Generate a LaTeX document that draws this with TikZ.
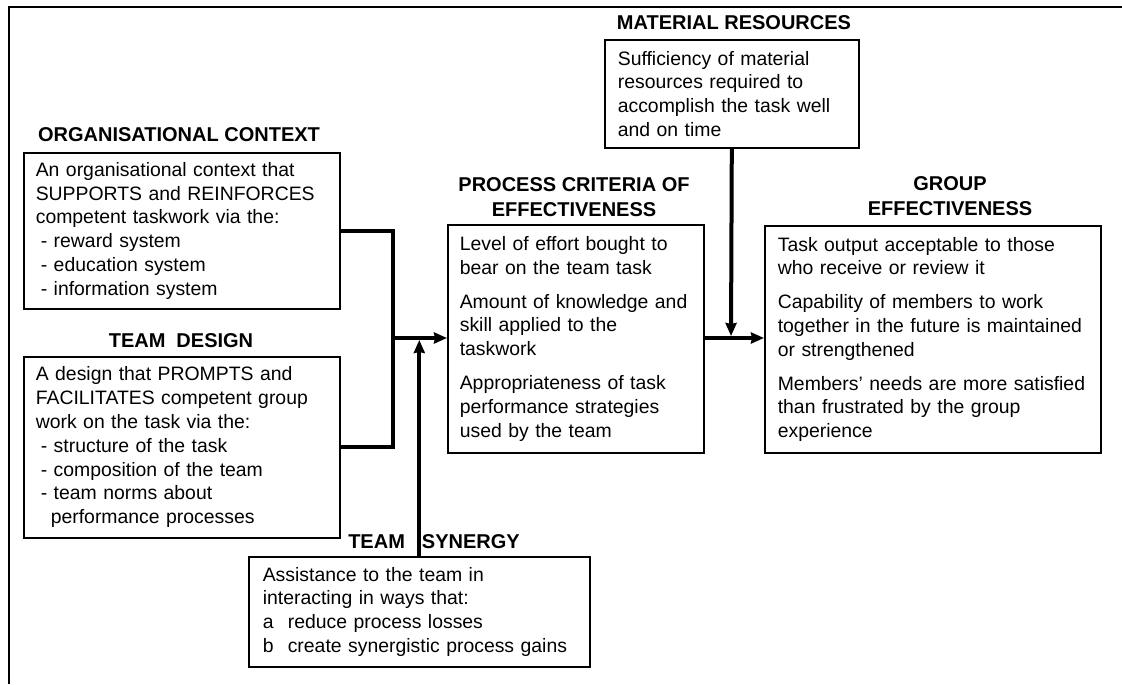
\documentclass[tikz,border=0pt]{standalone}
\usepackage{fontspec}
\setmainfont{Liberation Sans}
\usetikzlibrary{positioning,calc,arrows.meta}
\hyphenpenalty=10000
\tikzset{font=\fontsize{9.7}{11.9}\selectfont}
\tikzset{
	box/.style={draw, line width=0.8pt, align=left, anchor=north west, inner xsep=6pt, inner ysep=0pt},
	head/.style={font=\fontsize{10}{12.2}\selectfont\bfseries, align=center, inner sep=1pt},
	feed/.style={line width=2pt, -{Stealth[length=6.5pt, width=5.5pt, inset=0.5pt]}},
}

\begin{document}
\begin{tikzpicture}[x=0.5pt, y=-0.5pt]
	\useasboundingbox (0,0) rectangle (1122,684);
	\draw [line width=1pt] (9,684) -- (9,7) -- (1122,7);

	\node [head] (ctxhead) at (179,135) {ORGANISATIONAL CONTEXT};
	\node [box, text width=146pt, minimum height=78pt] (ctx) at (23,152) {An organisational context that\\SUPPORTS and REINFORCES\\competent taskwork via the:\\\hspace{2.5pt}- reward system\\\hspace{2.5pt}- education system\\\hspace{2.5pt}- information system};

	\node [head] (deshead) at (181,341) {TEAM\hspace{5.5pt}DESIGN};
	\node [box, text width=146pt, minimum height=90.5pt] (design) at (23,356) {A design that PROMPTS and\\FACILITATES competent group\\work on the task via the:\\\hspace{2.5pt}- structure of the task\\\hspace{2.5pt}- composition of the team\\\hspace{2.5pt}- team norms about\\\hspace{7.5pt}performance processes};

	\node [head] (synhead) at (434,542) {TEAM\hspace{8.5pt}SYNERGY};
	\node [box, inner xsep=7pt, text width=156.5pt, minimum height=55pt] (synergy) at (248,556) {Assistance to the team in\\interacting in ways that:\\\makebox[12.5pt][l]{a}reduce process losses\\\makebox[12.5pt][l]{b}create synergistic process gains};

	\node [head] (mathead) at (734,23) {MATERIAL RESOURCES};
	\node [box, inner xsep=6.5pt, text width=114pt, minimum height=54pt] (material) at (604,39) {Sufficiency of material\\resources required to\\accomplish the task well\\and on time};

	\node [head] (prochead) at (574,197) {PROCESS CRITERIA OF\\EFFECTIVENESS};
	\node [box, text width=116pt, minimum height=114pt] (process) at (447,224) {Level of effort bought to\\bear on the team task\\[5pt]Amount of knowledge and\\skill applied to the\\taskwork\\[5pt]Appropriateness of task\\performance strategies\\used by the team};

	\node [head] (grphead) at (950,196) {GROUP\\EFFECTIVENESS};
	\node [box, inner xsep=6.5pt, text width=155pt, minimum height=113.5pt] (group) at (764,225) {Task output acceptable to those\\who receive or review it\\[5pt]Capability of members to work\\together in the future is maintained\\or strengthened\\[5pt]Members' needs are more satisfied\\than frustrated by the group\\experience};

	\coordinate (merge) at (393,338);
	\coordinate (join) at (731,338);

	\draw [line width=2pt] (ctx.east) -| (merge) |- (design.east);
	\draw [feed] (merge) -- (merge -| process.west);
	\draw [feed, shorten >=1pt] (synergy.north) -- (synergy.north |- merge);
	\draw [line width=2pt] (join -| process.east) -- (join);
	\draw [feed] (join) -- (join -| group.west);
	\draw [feed, shorten >=1pt] (material.south) -- (join);
\end{tikzpicture}
\end{document}
